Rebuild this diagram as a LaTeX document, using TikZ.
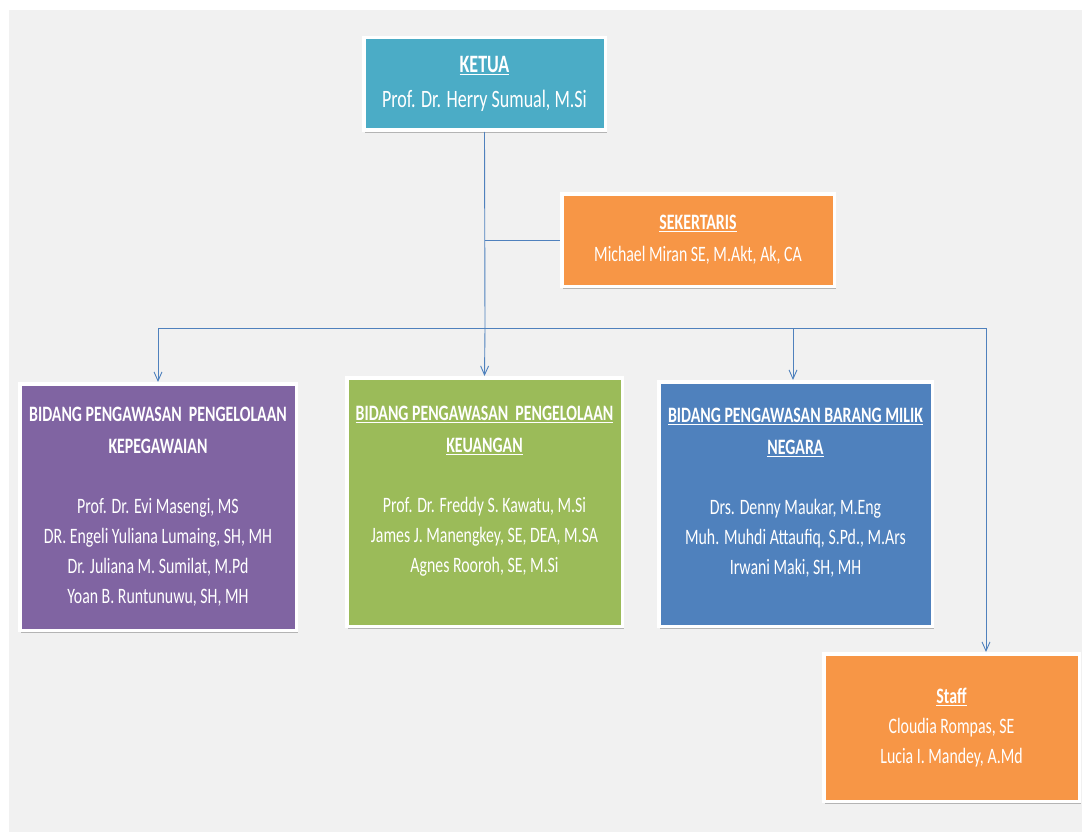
\documentclass[tikz,border=0pt]{standalone}
\usepackage{fontspec}
\setmainfont{Carlito}[FakeStretch=0.72]
\usetikzlibrary{arrows.meta,shadows}

\definecolor{bggray}{HTML}{F1F1F1}
\definecolor{ketuacol}{HTML}{4BACC6}
\definecolor{orangecol}{HTML}{F79646}
\definecolor{purplecol}{HTML}{8064A2}
\definecolor{greencol}{HTML}{9BBB59}
\definecolor{bluecol}{HTML}{4F81BD}
\definecolor{linkcol}{HTML}{4F81BD}

\tikzset{
	orgbox/.style={draw=white, line width=3.5pt, text=white, align=center,
		drop shadow={shadow xshift=1.5pt, shadow yshift=-3pt, fill=black, opacity=0.25}},
	link/.style={draw=linkcol, line width=0.9pt},
	arr/.style={link, -{Straight Barb[length=9pt, width=8pt, line width=0.9pt]}}
}

\begin{document}
\begin{tikzpicture}[x=1pt, y=-1pt]

		\useasboundingbox (0,0) rectangle (1082,832);
		\fill[bggray] (9,10) rectangle (1082,832);

		\node[orgbox, fill=ketuacol, minimum width=241.5pt, minimum height=92.5pt,
			font=\fontsize{25}{35}\selectfont] (ketua) at (484.5,84)
			{\textbf{\underline{KETUA}}\\Prof. Dr. Herry Sumual, M.Si};
		\node[orgbox, fill=orangecol, minimum width=272.5pt, minimum height=92.5pt,
			font=\fontsize{22}{32}\selectfont] (sekretaris) at (698,240)
			{\textbf{\underline{SEKERTARIS}}\\Michael Miran SE, M.Akt, Ak, CA};

		\node[orgbox, fill=purplecol, minimum width=276.5pt, minimum height=246.5pt,
			font=\fontsize{22}{30}\selectfont] (kepeg) at (158,507)
			{\textbf{BIDANG PENGAWASAN\ \ PENGELOLAAN}\\[2pt]
			\textbf{KEPEGAWAIAN}\\[30pt]
			Prof. Dr. Evi Masengi, MS\\
			DR. Engeli Yuliana Lumaing, SH, MH\\
			Dr. Juliana M. Sumilat, M.Pd\\
			Yoan B. Runtunuwu, SH, MH};
		\node[orgbox, fill=greencol, minimum width=275.5pt, minimum height=248.5pt,
			font=\fontsize{22}{30}\selectfont] (keuangan) at (484.5,502)
			{\textbf{\underline{BIDANG PENGAWASAN\ \ PENGELOLAAN}}\\[2pt]
			\textbf{\underline{KEUANGAN}}\\[30pt]
			Prof. Dr. Freddy S. Kawatu, M.Si\\
			James J. Manengkey, SE, DEA, M.SA\\
			Agnes Rooroh, SE, M.Si\\[-4pt]\mbox{}};
		\node[orgbox, fill=bluecol, minimum width=273.5pt, minimum height=244.5pt,
			font=\fontsize{22}{30}\selectfont] (bmn) at (795.5,504)
			{\textbf{\underline{BIDANG PENGAWASAN BARANG MILIK}}\\[2pt]
			\textbf{\underline{NEGARA}}\\[30pt]
			Drs. Denny Maukar, M.Eng\\
			Muh. Muhdi Attaufiq, S.Pd., M.Ars\\
			Irwani Maki, SH, MH\\[-4pt]\mbox{}};
		\node[orgbox, fill=orangecol, minimum width=255.5pt, minimum height=147.5pt,
			font=\fontsize{22}{30}\selectfont] (staff) at (951.5,727.5)
			{\textbf{\underline{Staff}}\\Cloudia Rompas, SE\\Lucia I. Mandey, A.Md};

		\coordinate (hub) at (485,328);
		\coordinate (barL) at (kepeg.north |- hub);
		\coordinate (barR) at (986,328);
		\coordinate (tapB) at (793,328);

		\draw[link] (ketua.south) -- (hub);
		\draw[link] (ketua.south |- sekretaris.west) -- (sekretaris.west);
		\draw[link] (barL) -- (barR);

		\draw[arr] (barL) -- (kepeg.north);
		\draw[arr] (hub) -- (keuangan.north);
		\draw[arr] (tapB) -- (tapB |- bmn.north);
		\draw[arr] (barR) -- (barR |- staff.north);
	\end{tikzpicture}
\end{document}
